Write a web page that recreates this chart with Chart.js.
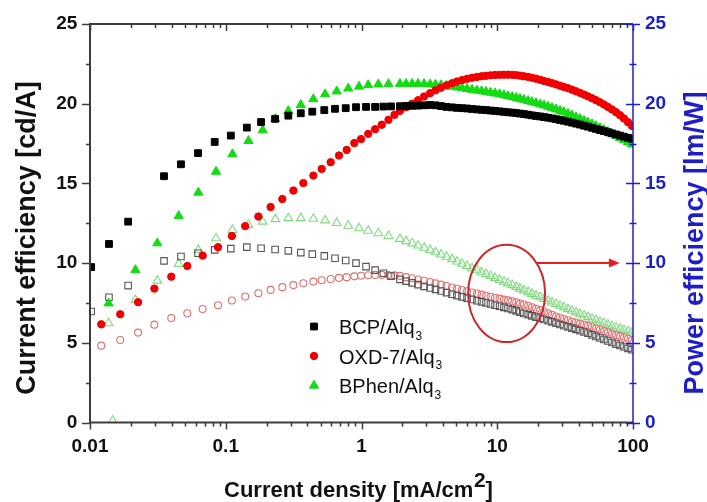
<!DOCTYPE html>
<html lang="en">
<head>
<meta charset="UTF-8">
<title>OLED efficiency</title>
<style>
  html, body { margin: 0; padding: 0; background: #fff; }
</style>
</head>
<body>
<canvas id="myCanvas" width="707" height="502"></canvas>
<script src="https://cdn.jsdelivr.net/npm/chart.js@4.4.0/dist/chart.umd.min.js"></script>
<script>
// current density [mA/cm2], low range per device
const bcpJLow = [0.0102, 0.0138, 0.0191, 0.0351, 0.0468, 0.0625, 0.0829, 0.109, 0.143, 0.182, 0.231, 0.289, 0.357, 0.434, 0.532, 0.638, 0.765, 0.911, 1.08, 1.26, 1.45, 1.65];
const oxdJLow = [0.0121, 0.0167, 0.0226, 0.0298, 0.0397, 0.0521, 0.0676, 0.0877, 0.111, 0.139, 0.174, 0.214, 0.261, 0.315, 0.373, 0.442, 0.509, 0.593, 0.683, 0.778, 0.885, 0.992, 1.12, 1.26, 1.41, 1.58, 1.75];
const bphenJLow = [0.0137, 0.0147, 0.0216, 0.0313, 0.0450, 0.0628, 0.0848, 0.112, 0.147, 0.187, 0.232, 0.289, 0.357, 0.442, 0.539, 0.657, 0.799, 0.959, 1.12, 1.33, 1.58];
// dense high range (same sweep for all three)
const jHigh = [1.92, 2.13, 2.36, 2.61, 2.89, 3.20, 3.51, 3.85, 4.23, 4.64, 5.05, 5.50, 5.99, 6.52, 7.09, 7.66, 8.26, 8.92, 9.63, 10.4, 11.2, 12.0, 12.9, 13.8, 14.7, 15.7, 16.9, 18.0, 19.3, 20.7, 22.1, 23.7, 25.3, 27.1, 29.0, 31.0, 33.2, 35.5, 38.0, 40.7, 43.6, 46.6, 49.9, 53.4, 57.1, 61.1, 65.4, 70.0, 75.0, 80.2, 85.8, 91.9, 98.3];

// current efficiency [cd/A]
const bcpCE = [9.75, 11.2, 12.6, 15.45, 16.2, 16.9, 17.6, 18.0, 18.5, 18.85, 19.05, 19.25, 19.4, 19.5, 19.6, 19.68, 19.72, 19.78, 19.8, 19.8, 19.82, 19.83,
  19.84, 19.86, 19.87, 19.88, 19.9, 19.92, 19.9, 19.85, 19.8, 19.77, 19.74, 19.72, 19.7, 19.67, 19.64, 19.62, 19.6, 19.57, 19.55, 19.52,
  19.49, 19.46, 19.44, 19.41, 19.38, 19.35, 19.31, 19.27, 19.23, 19.2, 19.16, 19.12, 19.08, 19.03, 18.98, 18.93, 18.87, 18.81, 18.75, 18.69,
  18.62, 18.56, 18.49, 18.42, 18.35, 18.28, 18.21, 18.14, 18.07, 18.0, 17.93, 17.86, 17.8];
const oxdCE = [6.16, 6.79, 7.55, 8.4, 9.15, 9.82, 10.47, 11.0, 11.7, 12.32, 12.92, 13.52, 14.02, 14.55, 15.02, 15.49, 15.91, 16.33, 16.75, 17.1, 17.53, 17.78, 18.11, 18.4, 18.68, 18.99, 19.3,
  19.55, 19.78, 20.0, 20.22, 20.45, 20.66, 20.84, 21.0, 21.15, 21.28, 21.39, 21.48, 21.56, 21.63, 21.68, 21.72, 21.75, 21.78, 21.8, 21.81,
  21.82, 21.82, 21.81, 21.79, 21.76, 21.72, 21.68, 21.63, 21.57, 21.5, 21.43, 21.36, 21.29, 21.21, 21.13, 21.05, 20.97, 20.88, 20.78, 20.68,
  20.57, 20.46, 20.34, 20.22, 20.09, 19.95, 19.8, 19.64, 19.47, 19.28, 19.07, 18.84, 18.6];
const bphenCE = [7.48, null, 9.57, 11.25, 12.96, 14.43, 15.74, 16.84, 17.67, 18.34, 19.05, 19.55, 19.93, 20.29, 20.6, 20.78, 20.96, 21.08, 21.17, 21.22, 21.24,
  21.25, 21.25, 21.25, 21.25, 21.24, 21.22, 21.2, 21.17, 21.13, 21.08, 21.03, 20.98, 20.93, 20.88, 20.83, 20.79, 20.75, 20.7, 20.65, 20.6,
  20.54, 20.48, 20.43, 20.37, 20.31, 20.25, 20.18, 20.11, 20.04, 19.97, 19.9, 19.82, 19.74, 19.65, 19.56, 19.47, 19.37, 19.27, 19.16, 19.05,
  18.94, 18.83, 18.72, 18.6, 18.48, 18.36, 18.24, 18.11, 17.98, 17.85, 17.72, 17.58, 17.45];

// power efficiency [lm/W]
const bcpPE = [6.96, 7.86, 8.59, 10.14, 10.41, 10.62, 10.83, 10.91, 11.0, 10.93, 10.85, 10.77, 10.66, 10.56, 10.45, 10.3, 10.16, 10.0, 9.78, 9.56, 9.36, 9.18,
  8.98, 8.87, 8.76, 8.65, 8.54, 8.44, 8.35, 8.25, 8.15, 8.05, 7.96, 7.88, 7.8, 7.72, 7.64, 7.57, 7.5, 7.43, 7.36, 7.29,
  7.22, 7.15, 7.08, 7.0, 6.92, 6.84, 6.77, 6.69, 6.61, 6.54, 6.46, 6.38, 6.31, 6.23, 6.15, 6.07, 6.0, 5.92, 5.84, 5.76,
  5.68, 5.6, 5.5, 5.4, 5.3, 5.21, 5.11, 5.02, 4.92, 4.83, 4.74, 4.65, 4.56];
const oxdPE = [4.82, 5.18, 5.64, 6.14, 6.56, 6.85, 7.12, 7.36, 7.65, 7.9, 8.11, 8.32, 8.49, 8.62, 8.74, 8.84, 8.92, 9.0, 9.07, 9.12, 9.17, 9.21, 9.24, 9.26, 9.26, 9.25, 9.23,
  9.2, 9.12, 9.05, 8.97, 8.89, 8.81, 8.73, 8.65, 8.56, 8.47, 8.39, 8.31, 8.23, 8.16, 8.09, 8.02, 7.95, 7.89, 7.83, 7.77,
  7.71, 7.66, 7.6, 7.54, 7.47, 7.4, 7.32, 7.23, 7.14, 7.05, 6.95, 6.85, 6.75, 6.65, 6.57, 6.49, 6.41, 6.34, 6.27, 6.2,
  6.13, 6.06, 5.98, 5.9, 5.82, 5.73, 5.65, 5.56, 5.48, 5.4, 5.32, 5.25, 5.18];
const bphenPE = [6.23, 0.12, 7.69, 8.9, 9.95, 10.83, 11.56, 12.08, 12.4, 12.6, 12.76, 12.82, 12.82, 12.78, 12.68, 12.52, 12.34, 12.19, 12.03, 11.87, 11.7,
  11.52, 11.38, 11.24, 11.1, 10.96, 10.82, 10.68, 10.54, 10.4, 10.25, 10.1, 9.96, 9.82, 9.68, 9.55, 9.43, 9.31, 9.19, 9.07, 8.95,
  8.84, 8.73, 8.62, 8.51, 8.4, 8.29, 8.18, 8.07, 7.96, 7.86, 7.75, 7.64, 7.53, 7.43, 7.32, 7.22, 7.11, 7.01, 6.91, 6.81,
  6.71, 6.61, 6.51, 6.42, 6.32, 6.23, 6.14, 6.05, 5.96, 5.88, 5.8, 5.72, 5.65];

const xTicks = [0.01, 0.1, 1, 10, 100];
const yTicks = [0, 5, 10, 15, 20, 25];
const legendNames = ['BCP/Alq', 'OXD-7/Alq', 'BPhen/Alq'];
// annotation: circled region (x range, left-axis range) and arrow level on right axis
const circleJ = [6.1, 22.5];
const circleCE = [5.05, 11.15];
const arrowPE = 10;
const arrowTipJ = 80;

const FONT = 'Liberation Sans, Arial, sans-serif';
const BLUE = '#1e1ec8';

function pts(xs, ys) {
  return xs.map((x, i) => ({ x: x, y: ys[i] }));
}

function filled(label, xs, ys, style, r, color) {
  return {
    label: label, data: pts(xs, ys), yAxisID: 'y', showLine: false,
    pointStyle: style, pointRadius: r, pointHoverRadius: r,
    backgroundColor: color, borderColor: color, pointBorderWidth: 1
  };
}
function hollow(label, xs, ys, style, r, color) {
  return {
    label: label, data: pts(xs, ys), yAxisID: 'y2', showLine: false,
    pointStyle: style, pointRadius: r, pointHoverRadius: r,
    backgroundColor: 'rgba(0,0,0,0)', borderColor: color, pointBorderWidth: 1.1
  };
}

const bcpJ = bcpJLow.concat(jHigh);
const oxdJ = oxdJLow.concat(jHigh);
const bphenJ = bphenJLow.concat(jHigh);

const frame = {
  id: 'frame',
  afterDatasetsDraw(chart) {
    const ctx = chart.ctx;
    const ca = chart.chartArea;
    const xs = chart.scales.x, ys = chart.scales.y, y2 = chart.scales.y2;
    ctx.save();
    ctx.lineCap = 'butt';

    // axis lines
    ctx.strokeStyle = '#3c3c3c';
    ctx.lineWidth = 2;
    ctx.beginPath();
    ctx.moveTo(ca.right, ca.top); ctx.lineTo(ca.left, ca.top);
    ctx.lineTo(ca.left, ca.bottom); ctx.lineTo(ca.right, ca.bottom);
    ctx.stroke();

    // x ticks: bottom outward, top inward
    ctx.lineWidth = 1.5;
    for (let d = -2; d <= 2; d++) {
      for (let m = 1; m <= 9; m++) {
        const v = m * Math.pow(10, d);
        if (v > 100.0001) break;
        const px = Math.round(xs.getPixelForValue(v)) + 0.5;
        const len = m === 1 ? 7 : 4;
        ctx.beginPath();
        ctx.moveTo(px, ca.bottom); ctx.lineTo(px, ca.bottom + len);
        ctx.moveTo(px, ca.top); ctx.lineTo(px, ca.top + len);
        ctx.stroke();
      }
    }
    // left ticks outward
    for (let v = 0; v <= 25; v += 2.5) {
      const py = Math.round(ys.getPixelForValue(v)) + 0.5;
      const len = v % 5 === 0 ? 8 : 4;
      ctx.beginPath();
      ctx.moveTo(ca.left - len, py); ctx.lineTo(ca.left, py);
      ctx.stroke();
    }

    // right axis, blue, ticks crossing
    ctx.strokeStyle = BLUE;
    ctx.lineWidth = 1.5;
    ctx.beginPath();
    ctx.moveTo(ca.right, ca.top); ctx.lineTo(ca.right, ca.bottom);
    ctx.stroke();
    for (let v = 0; v <= 25; v += 2.5) {
      const py = Math.round(y2.getPixelForValue(v)) + 0.5;
      const len = v % 5 === 0 ? 7 : 3.5;
      ctx.beginPath();
      ctx.moveTo(ca.right - len, py); ctx.lineTo(ca.right + len, py);
      ctx.stroke();
    }

    // circled region + arrow to the right axis
    const ex0 = xs.getPixelForValue(circleJ[0]), ex1 = xs.getPixelForValue(circleJ[1]);
    const ey0 = ys.getPixelForValue(circleCE[1]), ey1 = ys.getPixelForValue(circleCE[0]);
    const cx = (ex0 + ex1) / 2, cy = (ey0 + ey1) / 2;
    const rx = (ex1 - ex0) / 2, ry = (ey1 - ey0) / 2;
    ctx.strokeStyle = '#c82a2a';
    ctx.lineWidth = 2;
    ctx.beginPath();
    ctx.ellipse(cx, cy, rx, ry, 0, 0, Math.PI * 2);
    ctx.stroke();

    const ay = y2.getPixelForValue(arrowPE);
    const dy = (ay - cy) / ry;
    const ax0 = cx + rx * Math.sqrt(Math.max(0, 1 - dy * dy));
    const tip = xs.getPixelForValue(arrowTipJ);
    ctx.strokeStyle = '#e42020';
    ctx.fillStyle = '#e42020';
    ctx.beginPath();
    ctx.moveTo(ax0, ay); ctx.lineTo(tip - 8, ay);
    ctx.stroke();
    ctx.beginPath();
    ctx.moveTo(tip, ay); ctx.lineTo(tip - 11, ay - 4.5); ctx.lineTo(tip - 11, ay + 4.5);
    ctx.closePath();
    ctx.fill();

    // legend
    const styles = [['rect', 4.8, '#000'], ['circle', 3.7, '#f00000'], ['triangle', 5.3, '#14dc14']];
    styles.forEach((s, i) => {
      const ly = 326.5 + i * 29.5;
      ctx.fillStyle = s[2];
      ctx.strokeStyle = s[2];
      ctx.lineWidth = 1;
      Chart.helpers.drawPoint(ctx, { pointStyle: s[0], radius: s[1], rotation: 0, borderWidth: 1 }, 314, ly);
      ctx.fillStyle = '#111';
      ctx.textAlign = 'left';
      ctx.textBaseline = 'alphabetic';
      ctx.font = '20px ' + FONT;
      ctx.fillText(legendNames[i], 339, ly + 7.5);
      const w = ctx.measureText(legendNames[i]).width;
      ctx.font = '12px ' + FONT;
      ctx.fillText('3', 339 + w + 1, ly + 13);
    });

    // axis titles
    ctx.font = 'bold 27px ' + FONT;
    ctx.textAlign = 'center';
    ctx.textBaseline = 'alphabetic';
    ctx.fillStyle = '#111';
    ctx.save();
    ctx.translate(35, 238);
    ctx.rotate(-Math.PI / 2);
    ctx.fillText('Current efficiency [cd/A]', 0, 0);
    ctx.restore();

    ctx.fillStyle = BLUE;
    ctx.save();
    ctx.translate(703, 243);
    ctx.rotate(-Math.PI / 2);
    ctx.fillText('Power efficiency [lm/W]', 0, 0);
    ctx.restore();

    ctx.fillStyle = '#111';
    ctx.textAlign = 'left';
    ctx.font = 'bold 22px ' + FONT;
    const t1 = 'Current density [mA/cm';
    const x0 = 224;
    ctx.fillText(t1, x0, 497);
    const w1 = ctx.measureText(t1).width;
    ctx.font = 'bold 21px ' + FONT;
    ctx.fillText('2', x0 + w1 + 0.5, 487);
    const w2 = ctx.measureText('2').width;
    ctx.font = 'bold 22px ' + FONT;
    ctx.fillText(']', x0 + w1 + w2 + 0.5, 497);

    ctx.restore();
  }
};

const tickFont = { family: FONT, size: 19, weight: 'bold' };

new Chart(document.getElementById('myCanvas').getContext('2d'), {
  type: 'scatter',
  data: {
    datasets: [
      filled('BCP/Alq3', bcpJ, bcpCE, 'rect', 4.8, '#000'),
      filled('OXD-7/Alq3', oxdJ, oxdCE, 'circle', 3.7, '#f00000'),
      filled('BPhen/Alq3', bphenJ, bphenCE, 'triangle', 5.3, '#14dc14'),
      hollow('BCP/Alq3 PE', bcpJ, bcpPE, 'rect', 4.6, '#555'),
      hollow('OXD-7/Alq3 PE', oxdJ, oxdPE, 'circle', 3.5, '#e27070'),
      hollow('BPhen/Alq3 PE', bphenJ, bphenPE, 'triangle', 5, '#7fdc7f')
    ]
  },
  options: {
    responsive: false,
    animation: false,
    devicePixelRatio: 1,
    layout: { padding: { top: 24, left: 0, right: 0, bottom: 0 } },
    plugins: { legend: { display: false }, tooltip: { enabled: false } },
    scales: {
      x: {
        type: 'logarithmic', min: 0.01, max: 100,
        afterBuildTicks: s => { s.ticks = xTicks.map(v => ({ value: v })); },
        afterFit: s => { s.height = 79.5; },
        grid: { display: false, drawTicks: true, tickLength: 6 },
        border: { display: false },
        ticks: { font: tickFont, color: '#111', padding: 7, maxRotation: 0, autoSkip: false, callback: v => String(v) }
      },
      y: {
        position: 'left', min: 0, max: 25,
        afterBuildTicks: s => { s.ticks = yTicks.map(v => ({ value: v })); },
        afterFit: s => { s.width = 90; },
        grid: { display: false, drawTicks: true, tickLength: 8 },
        border: { display: false },
        ticks: { font: tickFont, color: '#111', padding: 4.7 }
      },
      y2: {
        position: 'right', min: 0, max: 25,
        afterBuildTicks: s => { s.ticks = yTicks.map(v => ({ value: v })); },
        afterFit: s => { s.width = 74; },
        grid: { display: false, drawTicks: true, tickLength: 6 },
        border: { display: false },
        ticks: { font: tickFont, color: BLUE, padding: 6 }
      }
    }
  },
  plugins: [frame]
});
</script>
</body>
</html>
